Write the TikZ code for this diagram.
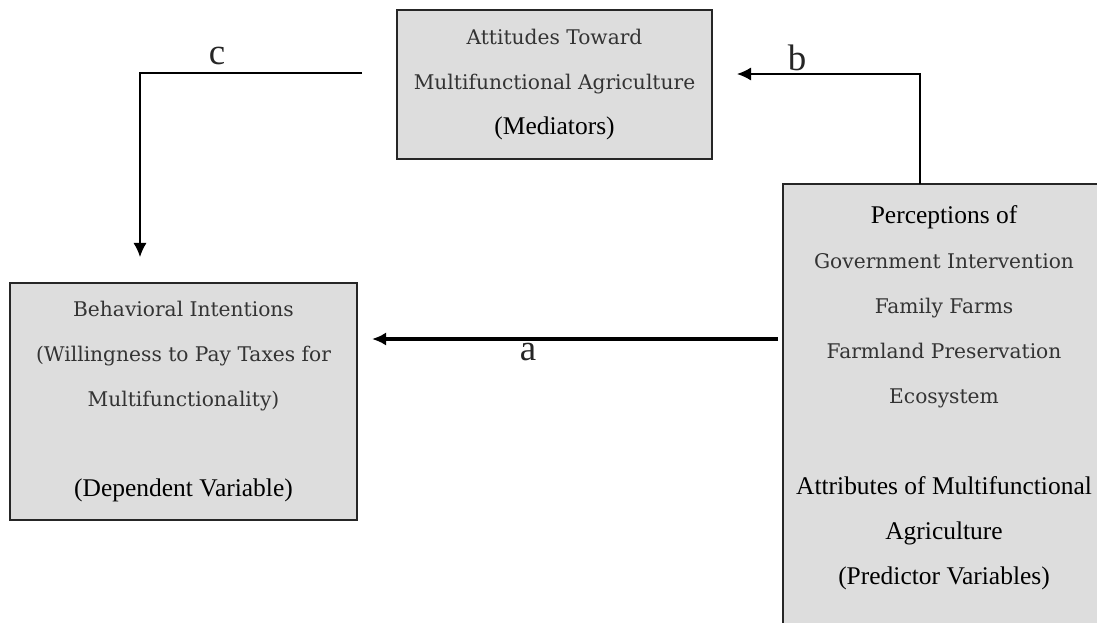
\documentclass[tikz,border=0pt]{standalone}
\usepackage{fontspec}
\setmainfont{DejaVu Serif}
\newfontfamily\timesfont{Liberation Serif}
\usetikzlibrary{arrows.meta}
\definecolor{boxgray}{HTML}{DDDDDD}
\definecolor{textgray}{HTML}{333333}
\newcommand{\dark}[1]{{\timesfont\fontsize{14.5}{25.5}\selectfont\color{black}#1}}
\begin{document}
\begin{tikzpicture}[x=0.02cm, y=-0.02cm, >={Latex[length=8pt, width=7.5pt]},
		varbox/.style={draw=black!85, line width=1pt, fill=boxgray, inner sep=0pt,
			align=center, text=textgray, font=\fontsize{11.5}{25.5}\selectfont},
		pathlbl/.style={font=\timesfont\fontsize{21}{21}\selectfont, text=black!85, inner sep=0pt},
		link/.style={->, line width=0.85pt}]
	\useasboundingbox (0,0) rectangle (1097,622);
	\begin{scope}
		\clip (0,0) rectangle (1097,622);
		\node[varbox, minimum width=6.3cm, minimum height=2.98cm] (attit) at (554.5,84.5)
			{Attitudes Toward\\Multifunctional Agriculture\\\dark{(Mediators)}};
		\node[varbox, minimum width=6.94cm, minimum height=4.74cm] (behav) at (183.5,401.5)
			{Behavioral Intentions\\(Willingness to Pay Taxes for\\Multifunctionality)\\[25.5pt]
			\dark{(Dependent Variable)}};
		\node[varbox, minimum width=6.74cm, minimum height=9.52cm] (perc) at (951.5,422) {};
		\node[align=center, anchor=north, inner sep=0pt, text=textgray,
			font=\fontsize{11.5}{25.7}\selectfont] (percText) at (944,205)
			{\dark{Perceptions of}\\Government Intervention\\Family Farms\\Farmland Preservation\\
			Ecosystem\\[25.7pt]\dark{Attributes of Multifunctional}\\\dark{Agriculture}\\
			\dark{(Predictor Variables)}};
	\end{scope}
	\coordinate (bStart) at (920,184);
	\coordinate (bEnd) at (737,74);
	\coordinate (cStart) at (362,73);
	\coordinate (cEnd) at (140,257);
	\coordinate (aStart) at (778,339);
	\coordinate (aEnd) at (372,339);
	\draw[link] (bStart) |- (bEnd);
	\draw[link] (cStart) -| (cEnd);
	\draw[link, line width=1.8pt] (aStart) -- (aEnd);
	\node[pathlbl] (lblA) at (528,352) {a};
	\node[pathlbl] (lblB) at (797,58) {b};
	\node[pathlbl] (lblC) at (217,56) {c};
\end{tikzpicture}
\end{document}
